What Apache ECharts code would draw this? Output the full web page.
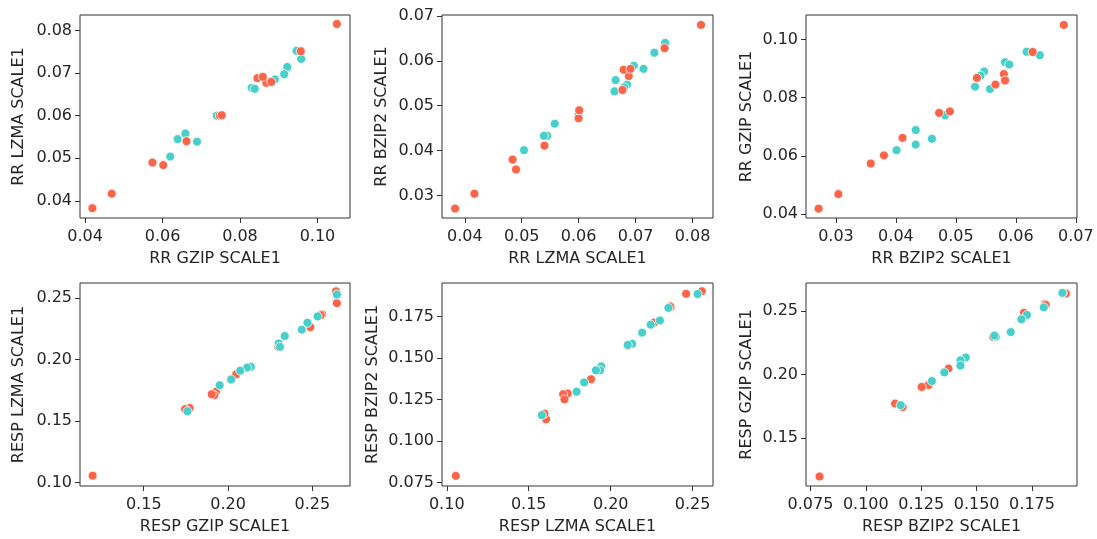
<!DOCTYPE html>
<html>
<head>
<meta charset="utf-8">
<title>Compression ratio pair scatter</title>
<script src="https://cdn.jsdelivr.net/npm/echarts@6/dist/echarts.min.js"></script>
<style>
  html, body { margin: 0; padding: 0; background: #ffffff; }
  #chart { width: 1097px; height: 539px; }
</style>
</head>
<body>
<div id="chart"></div>
<script>
// ---- RR metrics, group A (red) ----
const rrGzipA  = [0.1050, 0.0957, 0.0845, 0.0868, 0.0881, 0.0859, 0.0748, 0.0753, 0.0662, 0.0602, 0.0574, 0.0469, 0.0419];
const rrLzmaA  = [0.0815, 0.0751, 0.0688, 0.0677, 0.0679, 0.0691, 0.0600, 0.0601, 0.0540, 0.0484, 0.0490, 0.0417, 0.0383];
const rrBzip2A = [0.0680, 0.0628, 0.0566, 0.0535, 0.0580, 0.0582, 0.0472, 0.0490, 0.0411, 0.0380, 0.0358, 0.0304, 0.0271];

// ---- RR metrics, group B (teal) ----
const rrGzipB  = [0.0946, 0.0958, 0.0922, 0.0914, 0.0890, 0.0876, 0.0830, 0.0838, 0.0740, 0.0659, 0.0639, 0.0689, 0.0620];
const rrLzmaB  = [0.0752, 0.0733, 0.0714, 0.0697, 0.0685, 0.0680, 0.0665, 0.0663, 0.0600, 0.0558, 0.0545, 0.0539, 0.0504];
const rrBzip2B = [0.0640, 0.0618, 0.0582, 0.0589, 0.0547, 0.0541, 0.0557, 0.0532, 0.0482, 0.0460, 0.0433, 0.0433, 0.0401];

// ---- RESP metrics, group A (red) ----
const respGzipA  = [0.2640, 0.2645, 0.2558, 0.2550, 0.2488, 0.2298, 0.2048, 0.1928, 0.1918, 0.1903, 0.1772, 0.1745, 0.1197];
const respLzmaA  = [0.2556, 0.2460, 0.2368, 0.2362, 0.2265, 0.2104, 0.1880, 0.1738, 0.1710, 0.1718, 0.1606, 0.1596, 0.1055];
const respBzip2A = [0.1903, 0.1888, 0.1808, 0.1812, 0.1714, 0.1575, 0.1373, 0.1287, 0.1283, 0.1252, 0.1132, 0.1166, 0.0791];

// ---- RESP metrics, group B (teal) ----
const respGzipB  = [0.2645, 0.2531, 0.2471, 0.2437, 0.2336, 0.2300, 0.2308, 0.2135, 0.2113, 0.2072, 0.2018, 0.1950, 0.1759];
const respLzmaB  = [0.2530, 0.2352, 0.2300, 0.2244, 0.2192, 0.2131, 0.2104, 0.1942, 0.1935, 0.1910, 0.1838, 0.1792, 0.1580];
const respBzip2B = [0.1887, 0.1803, 0.1727, 0.1702, 0.1654, 0.1587, 0.1580, 0.1451, 0.1427, 0.1427, 0.1354, 0.1298, 0.1157];

// ---- tick values ----
const rrGzipTicks    = [0.04, 0.06, 0.08, 0.10];
const rrLzmaTicks    = [0.04, 0.05, 0.06, 0.07, 0.08];
const rrBzip2Ticks   = [0.03, 0.04, 0.05, 0.06, 0.07];
const respGzipTicks  = [0.15, 0.20, 0.25];
const respLzmaTicks  = [0.10, 0.15, 0.20, 0.25];
const respBzip2Ticks = [0.075, 0.100, 0.125, 0.150, 0.175];

// ---- axis titles ----
const axisNames = {
  rrGzip: 'RR GZIP SCALE1', rrLzma: 'RR LZMA SCALE1', rrBzip2: 'RR BZIP2 SCALE1',
  respGzip: 'RESP GZIP SCALE1', respLzma: 'RESP LZMA SCALE1', respBzip2: 'RESP BZIP2 SCALE1'
};

const RED = '#FA6449';
const TEAL = '#47CFCA';
const TEXT = '#262626';
const FONT = 'DejaVu Sans';
const FONT_SIZE = 16;

// Metric descriptors: data for each group, axis extent, ticks, decimals
const metrics = {
  rrGzip:    { a: rrGzipA,    b: rrGzipB,    min: 0.0387, max: 0.1084, ticks: rrGzipTicks,    dec: 2 },
  rrLzma:    { a: rrLzmaA,    b: rrLzmaB,    min: 0.0360, max: 0.0836, ticks: rrLzmaTicks,    dec: 2 },
  rrBzip2:   { a: rrBzip2A,   b: rrBzip2B,   min: 0.0250, max: 0.0702, ticks: rrBzip2Ticks,   dec: 2 },
  respGzip:  { a: respGzipA,  b: respGzipB,  min: 0.1122, max: 0.2723, ticks: respGzipTicks,  dec: 2 },
  respLzma:  { a: respLzmaA,  b: respLzmaB,  min: 0.0971, max: 0.2624, ticks: respLzmaTicks,  dec: 2 },
  respBzip2: { a: respBzip2A, b: respBzip2B, min: 0.0730, max: 0.1953, ticks: respBzip2Ticks, dec: 3 }
};

// Panel layout: which metric pair goes where, and plot box in pixels
const panels = [
  { x: 'rrGzip',    y: 'rrLzma',    left: 80,  top: 15,  width: 270, height: 203, yGap: 53, redOnTop: true },
  { x: 'rrLzma',    y: 'rrBzip2',   left: 442, top: 15,  width: 271, height: 203, yGap: 52, redOnTop: true },
  { x: 'rrBzip2',   y: 'rrGzip',    left: 806, top: 15,  width: 271, height: 203, yGap: 51, redOnTop: true },
  { x: 'respGzip',  y: 'respLzma',  left: 80,  top: 283, width: 270, height: 203, yGap: 53, redOnTop: false },
  { x: 'respLzma',  y: 'respBzip2', left: 442, top: 283, width: 271, height: 203, yGap: 61, redOnTop: false },
  { x: 'respBzip2', y: 'respGzip',  left: 806, top: 283, width: 271, height: 203, yGap: 51, redOnTop: false }
];

function zip(xs, ys) { return xs.map((v, i) => [v, ys[i]]); }

function makeAxis(key, gridIndex, isX, nameGap) {
  const m = metrics[key];
  return {
    type: 'value',
    gridIndex: gridIndex,
    min: m.min,
    max: m.max,
    name: axisNames[key],
    nameLocation: 'middle',
    nameGap: nameGap,
    nameTextStyle: { fontFamily: FONT, fontSize: FONT_SIZE, color: TEXT },
    axisLine: { show: false },
    splitLine: { show: false },
    axisTick: {
      show: true, inside: false, length: 5,
      customValues: m.ticks,
      lineStyle: { color: '#333333', width: 1 }
    },
    axisLabel: {
      show: true,
      customValues: m.ticks,
      margin: isX ? 11 : 8,
      fontFamily: FONT, fontSize: FONT_SIZE, color: TEXT,
      formatter: v => Number(v).toFixed(m.dec)
    }
  };
}

const grids = [], xAxes = [], yAxes = [], series = [];
panels.forEach((p, i) => {
  grids.push({
    left: p.left, top: p.top, width: p.width, height: p.height,
    show: true, borderColor: '#333333', borderWidth: 1, backgroundColor: 'transparent',
    containLabel: false
  });
  xAxes.push(makeAxis(p.x, i, true, 33));
  yAxes.push(makeAxis(p.y, i, false, p.yGap));

  const mx = metrics[p.x], my = metrics[p.y];
  const red = {
    type: 'scatter', xAxisIndex: i, yAxisIndex: i,
    data: zip(mx.a, my.a), symbol: 'circle', symbolSize: 9,
    itemStyle: { color: RED, borderColor: '#ffffff', borderWidth: 0.8, opacity: 1 },
    z: p.redOnTop ? 3 : 2, silent: true
  };
  const teal = {
    type: 'scatter', xAxisIndex: i, yAxisIndex: i,
    data: zip(mx.b, my.b), symbol: 'circle', symbolSize: 9,
    itemStyle: { color: TEAL, borderColor: '#ffffff', borderWidth: 0.8, opacity: 1 },
    z: p.redOnTop ? 2 : 3, silent: true
  };
  series.push(red, teal);
});

const chart = echarts.init(document.getElementById('chart'), null, { renderer: 'canvas' });
chart.setOption({
  backgroundColor: '#ffffff',
  animation: false,
  grid: grids,
  xAxis: xAxes,
  yAxis: yAxes,
  series: series
});
</script>
</body>
</html>
